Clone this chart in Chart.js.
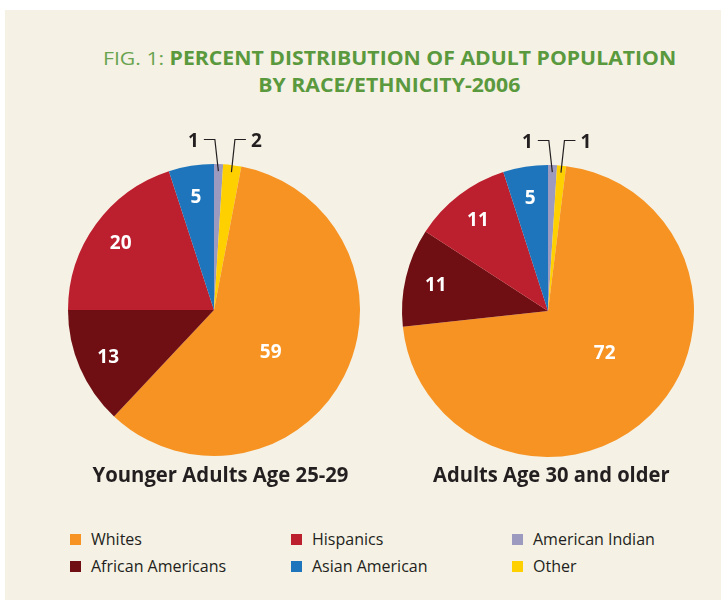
<!DOCTYPE html>
<html>
<head>
<meta charset="utf-8">
<script src="https://cdn.jsdelivr.net/npm/chart.js@4.4.1/dist/chart.umd.min.js"></script>
<style>
html, body { margin:0; padding:0; background:#ffffff; width:721px; height:602px; overflow:hidden; }
#panel { position:absolute; left:5px; top:10px; width:716px; height:590px; background:#f5f1e4; }
.txt { position:absolute; white-space:nowrap; font-family:"Open Sans", "DejaVu Sans", sans-serif; }
.title { font-size:19px; line-height:19px; color:#5a993d; font-weight:700; transform-origin:center center; }
.title .fig { font-weight:400; color:#68a34f; }
.sub { font-size:21px; line-height:21px; font-weight:700; color:#231f20; transform-origin:center center; }
.leg { font-size:16px; line-height:16px; color:#231f20; }
.sw { position:absolute; width:11px; height:11px; }
canvas { position:absolute; }
</style>
</head>
<body>
<div id="panel"></div>
<div id="t1" class="txt title" style="top:49px;"><span class="fig">FIG. 1: </span>PERCENT DISTRIBUTION OF ADULT POPULATION</div>
<div id="t2" class="txt title" style="top:76px;">BY RACE/ETHNICITY-2006</div>
<canvas id="c1" width="320" height="360" style="left:54px; top:130px; width:320px; height:360px;"></canvas>
<canvas id="c2" width="320" height="360" style="left:388px; top:131px; width:320px; height:360px;"></canvas>
<div id="s1" class="txt sub" style="top:464px;"></div>
<div id="s2" class="txt sub" style="top:464px;"></div>
<div id="legend"></div>
<script>
// ---- data ----
const categories = ["American Indian", "Other", "Whites", "African Americans", "Hispanics", "Asian American"];
const youngerAdults = [1, 2, 59, 13, 20, 5];
const olderAdults = [1, 1, 72, 11, 11, 5];
const sliceColors = ["#9d9abf", "#ffd000", "#f69322", "#700f13", "#bc1f2e", "#1e75bb"];
const chartTitles = ["Younger Adults Age 25-29", "Adults Age 30 and older"];
const legendOrder = ["Whites", "Hispanics", "American Indian", "African Americans", "Asian American", "Other"];

// ---- label plugin ----
const sliceLabels = {
  id: 'sliceLabels',
  afterDatasetsDraw(chart, args, opts) {
    const ctx = chart.ctx;
    const meta = chart.getDatasetMeta(0);
    const values = chart.data.datasets[0].data;
    const maxV = Math.max(...values);
    let smallCount = 0;
    meta.data.forEach((arc, i) => {
      const p = arc.getProps(['x', 'y', 'startAngle', 'endAngle', 'outerRadius'], true);
      const v = values[i];
      const mid = (p.startAngle + p.endAngle) / 2;
      ctx.save();
      ctx.font = 'bold 19px "Open Sans", sans-serif';
      ctx.textBaseline = 'alphabetic';
      if (v >= 3) {
        let ang = mid, rr = p.outerRadius * 0.79;
        if (v === maxV) { ang = opts.bigAngle * Math.PI / 180 - Math.PI / 2; rr = p.outerRadius * 0.48; }
        ctx.fillStyle = '#ffffff';
        ctx.textAlign = 'center';
        ctx.fillText(String(v), p.x + rr * Math.cos(ang), p.y + rr * Math.sin(ang) + 0.36 * 19);
      } else {
        const side = smallCount === 0 ? -1 : 1;
        smallCount++;
        const er = p.outerRadius - 7;
        const ex = p.x + er * Math.cos(mid), ey = p.y + er * Math.sin(mid);
        const ey2 = p.y - p.outerRadius - 24.5;
        const bx = ex + side * 3.5;
        const hx = bx + side * 11;
        ctx.strokeStyle = '#231f20';
        ctx.lineWidth = 1.2;
        ctx.beginPath();
        ctx.moveTo(ex, ey);
        ctx.lineTo(bx, ey2);
        ctx.lineTo(hx, ey2);
        ctx.stroke();
        ctx.fillStyle = '#231f20';
        ctx.textAlign = side < 0 ? 'right' : 'left';
        ctx.fillText(String(v), hx + side * 5, ey2 + 1 + 0.36 * 19);
      }
      ctx.restore();
    });
  }
};

function makePie(id, values) {
  return new Chart(document.getElementById(id), {
    type: 'pie',
    data: {
      labels: categories,
      datasets: [{ data: values, backgroundColor: sliceColors, borderWidth: 0 }]
    },
    options: {
      responsive: false,
      animation: false,
      radius: 146,
      layout: { padding: 0 },
      events: [],
      plugins: {
        legend: { display: false },
        tooltip: { enabled: false },
        sliceLabels: { bigAngle: 126 }
      }
    },
    plugins: [sliceLabels]
  });
}
makePie('c1', youngerAdults);
makePie('c2', olderAdults);

// ---- subtitles ----
document.getElementById('s1').textContent = chartTitles[0];
document.getElementById('s2').textContent = chartTitles[1];

// ---- legend ----
const legend = document.getElementById('legend');
const colX = [70, 291, 512];
const rowY = [534, 560.5];
legendOrder.forEach((name, k) => {
  const col = k % 3, row = Math.floor(k / 3);
  const sw = document.createElement('div');
  sw.className = 'sw';
  sw.style.left = colX[col] + 'px';
  sw.style.top = rowY[row] + 'px';
  sw.style.background = sliceColors[categories.indexOf(name)];
  legend.appendChild(sw);
  const t = document.createElement('div');
  t.className = 'txt leg';
  t.textContent = name;
  t.style.left = (colX[col] + 21) + 'px';
  t.style.top = (rowY[row] - 2.8) + 'px';
  legend.appendChild(t);
});

// ---- fit text widths ----
function fit(id, center, width, scaleOverride) {
  const el = document.getElementById(id);
  const w = el.offsetWidth;
  const s = scaleOverride || (width / w);
  el.style.left = (center - w / 2) + 'px';
  el.style.transform = 'scaleX(' + s + ')';
  return s;
}
const ts = fit('t1', 389.5, 573);
fit('t2', 389.5, 0, ts);
fit('s1', 220.3, 256);
fit('s2', 551.5, 237);
</script>
</body>
</html>
